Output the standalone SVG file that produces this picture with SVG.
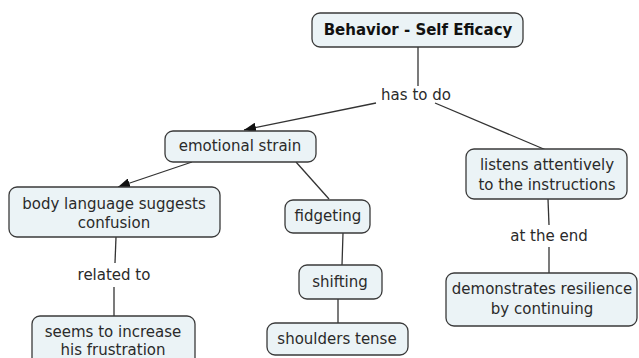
<svg xmlns="http://www.w3.org/2000/svg" width="639" height="358" viewBox="0 0 639 358">
<style>
.n rect{fill:#ebf3f6;stroke:#3a3a3a;stroke-width:1.3}
text{font-family:"DejaVu Sans",Verdana,sans-serif;font-size:15px;fill:#2a2a2a;text-anchor:middle}
.b{font-weight:bold;fill:#111}
.c line{stroke:#333;stroke-width:1.3}
</style>
<defs>
<marker id="ah" viewBox="0 0 12 10" refX="12" refY="5" markerWidth="12" markerHeight="10" markerUnits="userSpaceOnUse" orient="auto">
<path d="M0,0 L12,5 L0,10 z" fill="#111"/>
</marker>
</defs>
<rect width="639" height="358" fill="#fff"/>
<g id="connectors" class="c">
<line x1="418" y1="47" x2="418" y2="86"/>
<line x1="376" y1="103" x2="244" y2="130" marker-end="url(#ah)"/>
<line x1="435" y1="103" x2="546" y2="150"/>
<line x1="192" y1="162" x2="118" y2="187" marker-end="url(#ah)"/>
<line x1="296" y1="162" x2="329" y2="199"/>
<line x1="116" y1="237" x2="115" y2="263"/>
<line x1="114" y1="287" x2="114" y2="316"/>
<line x1="343" y1="233" x2="342" y2="265"/>
<line x1="338" y1="299" x2="338" y2="323"/>
<line x1="548" y1="199" x2="549" y2="225"/>
<line x1="549" y1="247" x2="549" y2="273"/>
<text x="416" y="100">has to do</text>
<text x="114" y="280">related to</text>
<text x="549" y="241">at the end</text>
</g>
<g id="n1" class="n"><rect x="312" y="13" width="211" height="34" rx="8"/><text class="b" x="418" y="35">Behavior - Self Eficacy</text></g>
<g id="n2" class="n"><rect x="165" y="131" width="151" height="31" rx="8"/><text x="240" y="151">emotional strain</text></g>
<g id="n3" class="n"><rect x="466" y="149" width="161" height="50" rx="8"/><text x="547" y="170">listens attentively</text><text x="547" y="190">to the instructions</text></g>
<g id="n4" class="n"><rect x="9" y="187" width="211" height="50" rx="8"/><text x="114" y="209">body language suggests</text><text x="114" y="228">confusion</text></g>
<g id="n5" class="n"><rect x="285" y="200" width="85" height="33" rx="8"/><text x="328" y="221">fidgeting</text></g>
<g id="n6" class="n"><rect x="299" y="265" width="83" height="34" rx="8"/><text x="340" y="287">shifting</text></g>
<g id="n7" class="n"><rect x="267" y="323" width="141" height="32" rx="8"/><text x="337" y="344">shoulders tense</text></g>
<g id="n8" class="n"><rect x="32" y="316" width="163" height="52" rx="8"/><text x="113" y="337">seems to increase</text><text x="113" y="355">his frustration</text></g>
<g id="n9" class="n"><rect x="446" y="273" width="191" height="53" rx="8"/><text x="542" y="294">demonstrates resilience</text><text x="542" y="314">by continuing</text></g>
</svg>
